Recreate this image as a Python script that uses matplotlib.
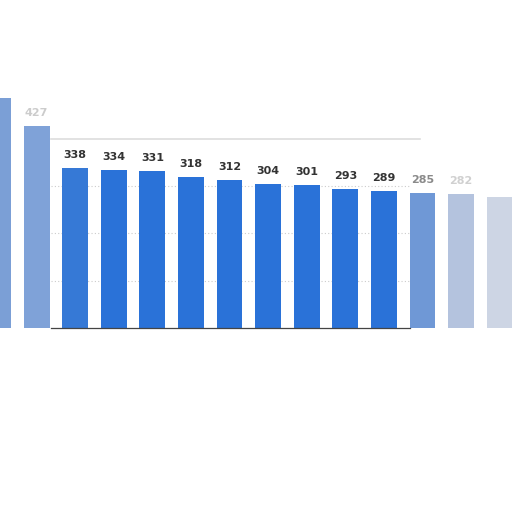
import numpy as np
import matplotlib.pyplot as plt

# values (outer bars are faded / cut off)
values = [486, 427, 338, 334, 331, 318, 312, 304, 301, 293, 289, 285, 282, 277]
labels = ["486", "427", "338", "334", "331", "318", "312", "304", "301", "293", "289", "285", "282", ""]
bar_colors = ["#7b9fd6", "#7fa2d8", "#3679d6", "#2a72d8", "#2a72d8", "#2a72d8", "#2a72d8",
              "#2a72d8", "#2a72d8", "#2a72d8", "#2a72d8", "#6f98d6", "#b4c3de", "#cdd5e4"]
label_colors = ["#cccccc", "#cccccc", "#333333", "#333333", "#333333", "#333333", "#333333",
                "#333333", "#333333", "#333333", "#333333", "#8a8a8a", "#d0d0d0", "#ffffff"]
grid_vals = [100, 200, 300]

fig = plt.figure(figsize=(5.12, 5.12), dpi=100)
ax = fig.add_axes([0, 0, 1, 1])

x = np.arange(len(values))
ax.bar(x, values, width=0.67, color=bar_colors, zorder=3)
for i, v in enumerate(values):
    if labels[i]:
        ax.annotate(labels[i], (x[i], v), xytext=(0, 6), textcoords="offset points",
                    ha="center", va="bottom", fontsize=8, fontweight="bold",
                    color=label_colors[i], zorder=4)

for g in grid_vals:
    ax.axhline(g, xmin=0.1, xmax=0.8, color="#cccccc", lw=0.8, ls=(0, (1, 2)), zorder=1)
ax.axhline(400, xmin=0.1, xmax=0.82, color="#dddddd", lw=1.2, zorder=1)
ax.axhline(0, xmin=0.1, xmax=0.8, color="#444444", lw=0.9, zorder=5)

ax.set_xlim(0.052, 13.32)
ax.set_ylim(-389, 693)
ax.axis("off")

fig.savefig("out.png", dpi=100)
